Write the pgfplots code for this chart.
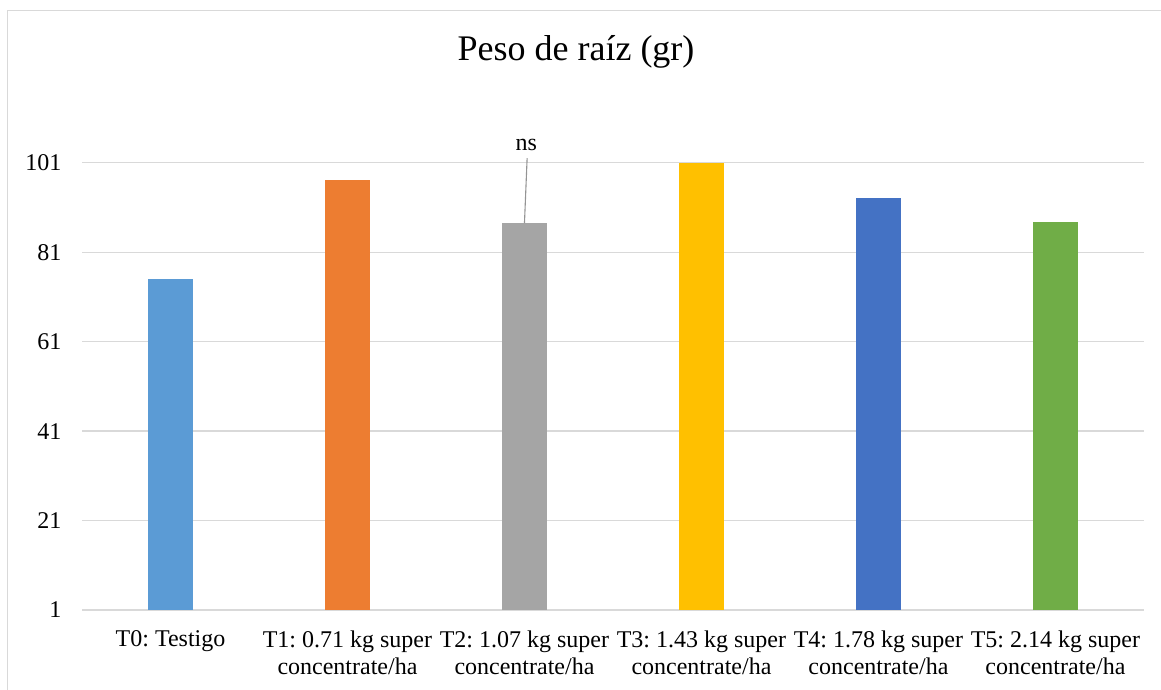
\documentclass[border=0pt]{standalone}
\usepackage{pgfplots}
\pgfplotsset{compat=1.18}
\usepackage{fontspec}
\setmainfont{Liberation Serif}
\definecolor{c0}{HTML}{5B9BD5}
\definecolor{c1}{HTML}{ED7D31}
\definecolor{c2}{HTML}{A5A5A5}
\definecolor{c3}{HTML}{FFC000}
\definecolor{c4}{HTML}{4472C4}
\definecolor{c5}{HTML}{70AD47}
\definecolor{gridc}{HTML}{D9D9D9}
\frenchspacing
\begin{document}
\begin{tikzpicture}[x=1pt,y=1pt]
\useasboundingbox (0,0) rectangle (1161,689);
\draw[gridc, line width=1.2pt] (7.3,-20) -- (7.3,678.5) -- (1200,678.5);
\node[font=\fontsize{36}{40}\selectfont] at (576,637) {Peso de raíz (gr)};
\begin{axis}[
  at={(82pt,79pt)}, anchor=south west,
  scale only axis, width=1062pt, height=447.3pt,
  xmin=-0.5, xmax=5.5, ymin=1, ymax=101,
  ytick={1,21,41,61,81,101},
  xtick={0,1,2,3,4,5},
  xticklabels={{T0: Testigo},{T1: 0.71 kg super\\concentrate/ha},{T2: 1.07 kg super\\concentrate/ha},{T3: 1.43 kg super\\concentrate/ha},{T4: 1.78 kg super\\concentrate/ha},{T5: 2.14 kg super\\concentrate/ha}},
  xticklabel style={align=center, font=\fontsize{24}{27}\selectfont, anchor=north, yshift=-17pt},
  yticklabel style={font=\fontsize{24}{27}\selectfont, anchor=east, xshift=-17pt},
  /pgf/number format/assume math mode=true,
  major tick length=0pt,
  axis line style={draw=none},
  ymajorgrids, grid style={gridc, line width=1.2pt},
  ybar, bar width=45pt, bar shift=0pt,
  clip mode=individual,
]
\addplot[fill=c0, draw=none] coordinates {(0,75.0)};
\addplot[fill=c1, draw=none] coordinates {(1,97.1)};
\addplot[fill=c2, draw=none] coordinates {(2,87.5)};
\addplot[fill=c3, draw=none] coordinates {(3,101.0)};
\addplot[fill=c4, draw=none] coordinates {(4,93.1)};
\addplot[fill=c5, draw=none] coordinates {(5,87.7)};
\draw[color=c2!90!black, line width=1.1pt] (axis cs:2.015,102.0) -- (axis cs:2.0,87.5);
\node[font=\fontsize{24}{27}\selectfont] at (axis cs:2.01,105.0) {ns};
\end{axis}
\end{tikzpicture}
\end{document}
